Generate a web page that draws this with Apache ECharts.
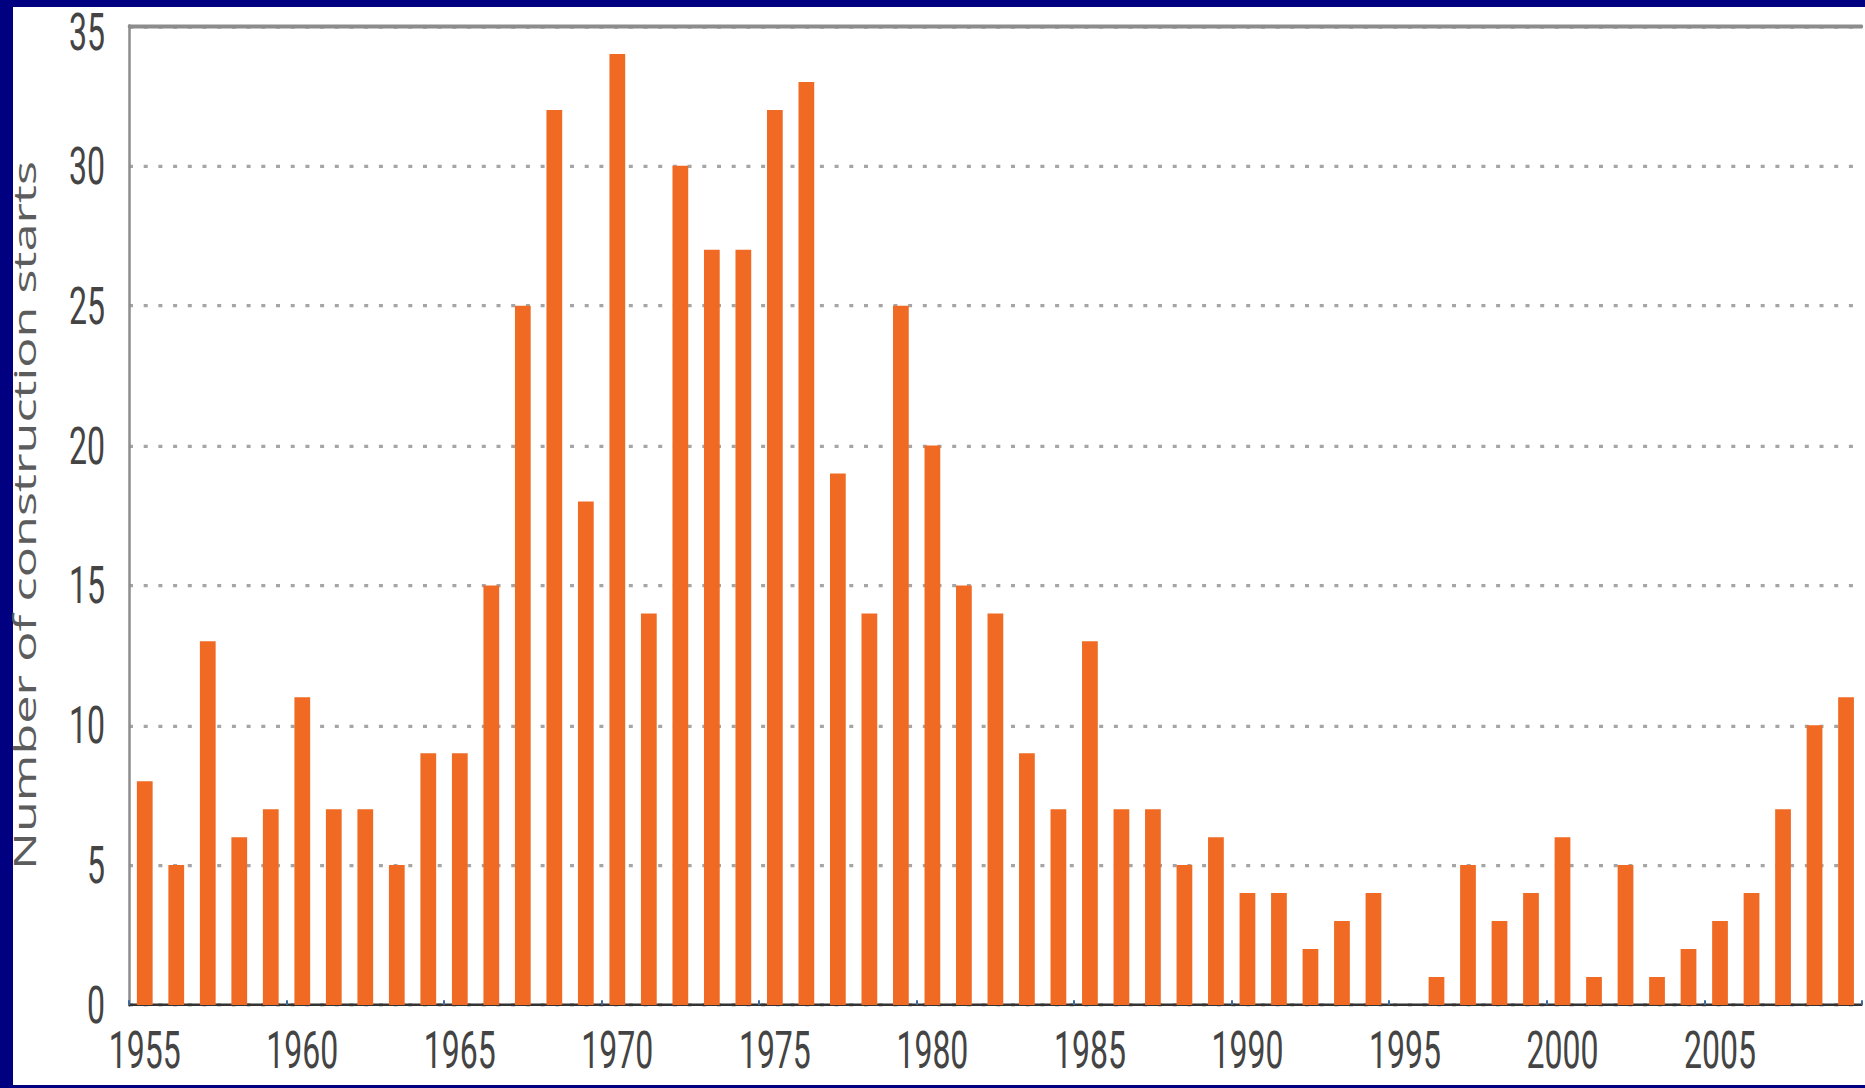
<!DOCTYPE html>
<html>
<head>
<meta charset="utf-8">
<title>Number of construction starts</title>
<script src="https://cdn.jsdelivr.net/npm/echarts@6/dist/echarts.min.js"></script>
<style>
  html, body { margin: 0; padding: 0; width: 1865px; height: 1088px; overflow: hidden; background: #000080; }
  #panel {
    position: absolute; left: 13px; top: 7px;
    width: 1852px; height: 1078px;
    background: #ffffff;
  }
  /* the chart is laid out at 1/1.6 height and stretched vertically by CSS */
  #chart {
    position: absolute; left: 0; top: 0;
    width: 1865px; height: 680px;
    transform: scaleY(1.6); transform-origin: 0 0;
  }
</style>
</head>
<body>
<div id="panel"></div>
<div id="chart"></div>
<script>
// Years of construction start
const years = [];
for (let y = 1955; y <= 2009; y++) years.push(String(y));

// Number of construction starts per year
const starts = [
  8, 5, 13, 6, 7, 11, 7, 7, 5, 9,        // 1955-1964
  9, 15, 25, 32, 18, 34, 14, 30, 27, 27, // 1965-1974
  32, 33, 19, 14, 25, 20, 15, 14, 9, 7,  // 1975-1984
  13, 7, 7, 5, 6, 4, 4, 2, 3, 4,         // 1985-1994
  0, 1, 5, 3, 4, 6, 1, 5, 1, 2,          // 1995-2004
  3, 4, 7, 10, 11                        // 2005-2009
];

const yTicks = { min: 0, max: 35, step: 5 };
const axisTitle = 'Number of construction starts';

const labelFont = { fontFamily: 'Roboto', fontSize: 32, color: '#444444' };

const chart = echarts.init(document.getElementById('chart'), null, { renderer: 'svg' });

chart.setOption({
  backgroundColor: 'transparent',
  animation: false,
  grid: { left: 128, right: 3.2, top: 16.25, bottom: 51.9, containLabel: false },
  xAxis: [
    {
      type: 'category',
      data: years,
      position: 'bottom',
      boundaryGap: true,
      axisLine: { show: true, lineStyle: { color: '#333333', width: 1.5 } },
      axisTick: { show: true, inside: true, length: 3, lineStyle: { color: '#3d6a9c', width: 2 } },
      axisLabel: Object.assign({ interval: 4, margin: 12 }, labelFont),
      splitLine: { show: false }
    },
    {
      // top frame line
      type: 'category',
      data: years,
      position: 'top',
      axisLine: { show: true, lineStyle: { color: '#8c8c8c', width: 2.5 } },
      axisTick: { show: false },
      axisLabel: { show: false },
      splitLine: { show: false }
    }
  ],
  yAxis: {
    type: 'value',
    min: yTicks.min,
    max: yTicks.max,
    interval: yTicks.step,
    name: axisTitle,
    nameLocation: 'middle',
    nameGap: 89,
    nameTextStyle: { fontFamily: 'Open Sans', fontSize: 31.5, color: '#5c5c5c' },
    axisLine: { show: true, lineStyle: { color: '#8c8c8c', width: 2.5 } },
    axisTick: { show: false },
    axisLabel: Object.assign({
      margin: 24,
      // the top value sits against the frame, nudge it down a little
      formatter: v => (v === yTicks.max ? '{top|' + v + '}' : String(v)),
      rich: { top: Object.assign({ padding: [7, 0, 0, 0] }, labelFont) }
    }, labelFont),
    splitLine: {
      show: true,
      lineStyle: { color: '#a5a5a5', width: 2, type: [4, 10.7] }
    }
  },
  series: [
    {
      type: 'bar',
      data: starts,
      xAxisIndex: 0,
      barCategoryGap: '50%',
      itemStyle: { color: '#f06a23' }
    }
  ]
});
</script>
</body>
</html>
